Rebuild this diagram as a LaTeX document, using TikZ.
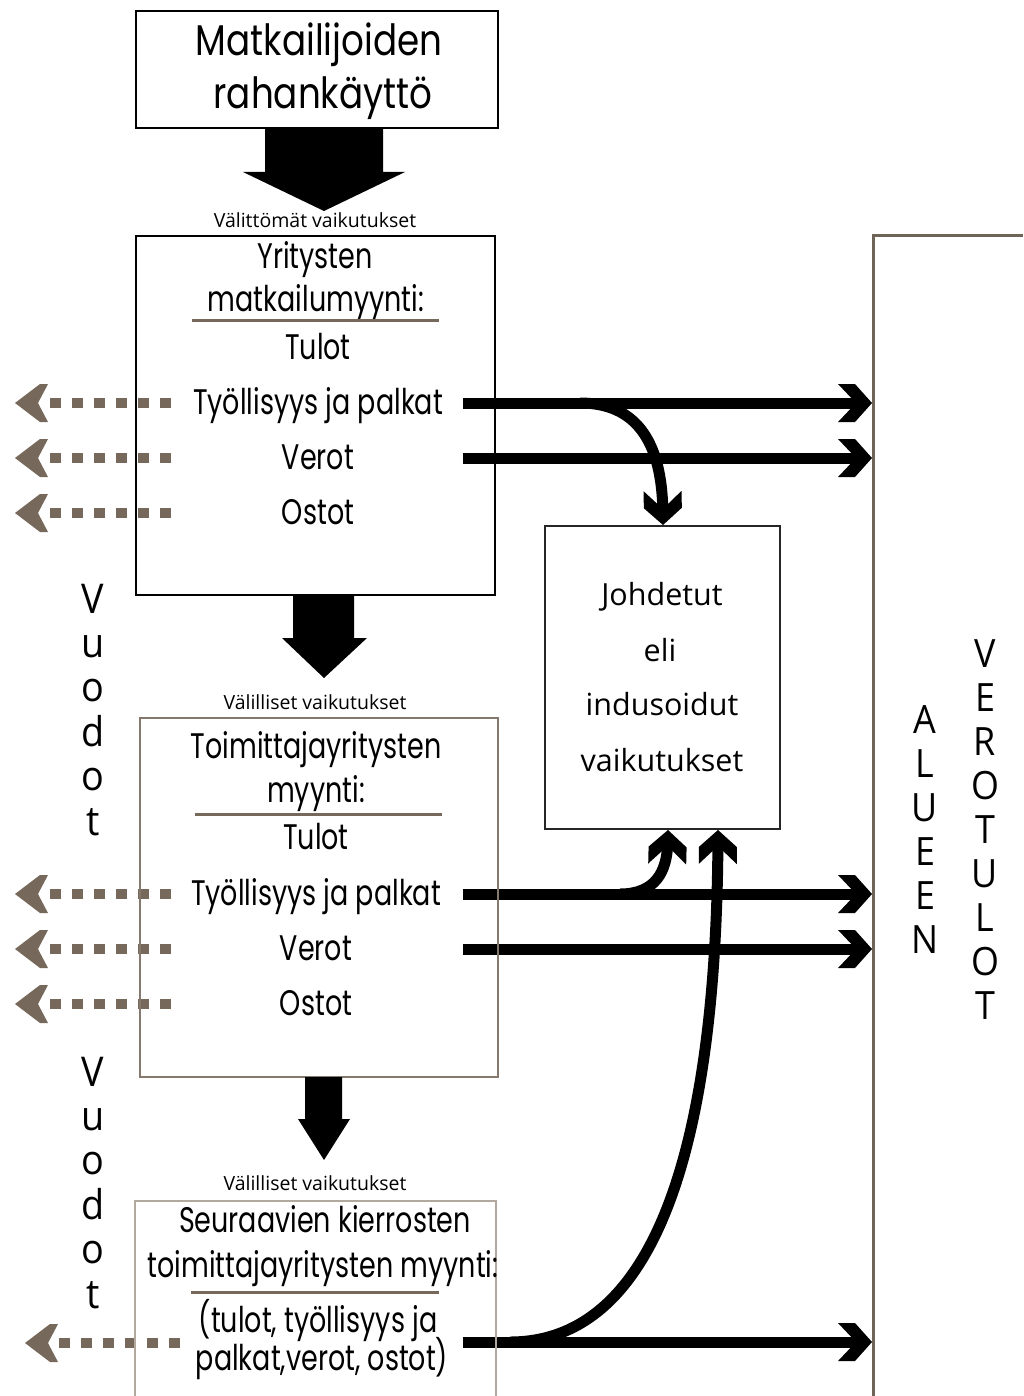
\documentclass[tikz,border=0pt]{standalone}
\usepackage{fontspec}
\setmainfont{Poppins}[FakeStretch=0.76]
\newfontfamily\ttlf{Poppins}[FakeStretch=0.83]
\newfontfamily\hum{Open Sans}[FakeStretch=0.92]
\newfontfamily\humw{Open Sans}
\usetikzlibrary{arrows.meta}
\definecolor{brn}{HTML}{76695B}
\definecolor{bxc}{HTML}{85796D}
\definecolor{bxd}{HTML}{B3A89E}
\definecolor{vlc}{HTML}{6E6458}
\pgfdeclarearrow{
  name = Chev,
  setup code = {
    \pgfarrowssettipend{0pt}
    \pgfarrowssetlineend{-13pt}
    \pgfarrowssetbackend{-34pt}
  },
  drawing code = {
    \pgfpathmoveto{\pgfpoint{0pt}{0pt}}
    \pgfpathlineto{\pgfpoint{-17pt}{19pt}}
    \pgfpathlineto{\pgfpoint{-34pt}{19pt}}
    \pgfpathlineto{\pgfpoint{-16pt}{0pt}}
    \pgfpathlineto{\pgfpoint{-34pt}{-19pt}}
    \pgfpathlineto{\pgfpoint{-17pt}{-19pt}}
    \pgfpathclose
    \pgfusepathqfill
  }
}
\pgfdeclarearrow{
  name = LChev,
  setup code = {
    \pgfarrowssettipend{0pt}
    \pgfarrowssetlineend{-24pt}
    \pgfarrowssetbackend{-33pt}
  },
  drawing code = {
    \pgfpathmoveto{\pgfpoint{0pt}{0pt}}
    \pgfpathlineto{\pgfpoint{-25pt}{19pt}}
    \pgfpathlineto{\pgfpoint{-33pt}{19pt}}
    \pgfpathlineto{\pgfpoint{-23pt}{0pt}}
    \pgfpathlineto{\pgfpoint{-33pt}{-19pt}}
    \pgfpathlineto{\pgfpoint{-25pt}{-19pt}}
    \pgfpathclose
    \pgfusepathqfill
  }
}
\begin{document}
\begin{tikzpicture}[x=1pt,y=-1pt,
  txt/.style={inner sep=0pt, anchor=mid, font=\fontsize{35.5}{40}\selectfont},
  ttl/.style={inner sep=0pt, anchor=mid, font=\ttlf\fontsize{43}{48}\selectfont},
  hum/.style={inner sep=0pt, anchor=mid, font=\humw\fontsize{30.5}{34}\selectfont},
  lab/.style={inner sep=0pt, anchor=mid, font=\humw\fontsize{19.5}{22}\selectfont},
  vlet/.style={inner sep=0pt, anchor=base, font=\hum\fontsize{41}{44}\selectfont},
  arr/.style={line width=11pt, -Chev},
  leak/.style={brn, line width=10pt, dash pattern=on 11pt off 11pt, -LChev},
  rule/.style={brn, line width=3pt},
  blockarrow/.style={fill=black},
]
\useasboundingbox (0,0) rectangle (1023,1396);
% region frame
\draw[vlc, line width=3pt] (873,1396) -- (873,236) -- (1023,236);
% leak arrows
\foreach \y [count=\i] in {403,458,513,894,949,1004} {
  \coordinate (ls\i) at (171,\y);
  \coordinate (le\i) at (15,\y);
  \draw[leak] (ls\i) -- (le\i);
}
\coordinate (ls7) at (180,1343);
\coordinate (le7) at (25,1343);
\draw[leak] (ls7) -- (le7);
% right arrows
\foreach \y [count=\i] in {403,458,894,949,1342} {
  \coordinate (rs\i) at (463,\y);
  \coordinate (re\i) at (872,\y);
  \draw[arr] (rs\i) -- (re\i);
}
% boxes
\node[draw, line width=1.3pt, minimum width=362pt, minimum height=117pt, inner sep=0pt] (top) at (317,69.5) {};
\node[draw, line width=1.3pt, minimum width=359pt, minimum height=359pt, inner sep=0pt] (b1) at (315.5,415.5) {};
\node[draw=bxc, line width=1.5pt, minimum width=358pt, minimum height=359pt, inner sep=0pt] (b2) at (319,897.5) {};
\draw[bxd, line width=1.5pt] (135,1396) -- (135,1201) -- (496,1201) -- (496,1396);
\node[draw=black!85, line width=1.5pt, minimum width=235pt, minimum height=303pt, inner sep=0pt] (jo) at (662.5,677.5) {};
% curved arrows
\coordinate (c1s) at (580,403);
\coordinate (c1e) at (663,525);
\draw[arr] (c1s) .. controls (635,403) and (662,440) .. (c1e);
\coordinate (c2s) at (620,894);
\coordinate (c2e) at (668,830);
\draw[arr] (c2s) .. controls (655,894) and (667,872) .. (c2e);
\coordinate (c3s) at (510,1342);
\coordinate (c3e) at (718,830);
\draw[arr] (c3s) .. controls (650,1342) and (716,1160) .. (c3e);
% block arrows
\fill[blockarrow] (265,128) -- (383,128) -- (383,172) -- (405,172) -- (324,211) -- (243,172) -- (265,172) -- cycle;
\fill[blockarrow] (293,595) -- (354,595) -- (354,638) -- (367,638) -- (324,678) -- (282,638) -- (293,638) -- cycle;
\fill[blockarrow] (305,1077) -- (342,1077) -- (342,1119) -- (350,1119) -- (324,1160) -- (298,1119) -- (305,1119) -- cycle;
% labels
\node[lab] (l1) at (315,225) {Välittömät vaikutukset};
\node[lab] (l2) at (315,707) {Välilliset vaikutukset};
\node[lab] (l3) at (315,1188) {Välilliset vaikutukset};
% top texts
\node[ttl] (t1) at (319,53) {Matkailijoiden};
\node[ttl] (t2) at (323,106) {rahankäyttö};
% box 1 texts
\node[txt] (a1) at (315,266) {Yritysten};
\node[txt] (a2) at (316,309) {matkailumyynti:};
\draw[rule] (192,320) -- (439,320);
\node[txt] (a3) at (318,357) {Tulot};
\node[txt] (a4) at (318,412) {Työllisyys ja palkat};
\node[txt] (a5) at (318,467) {Verot};
\node[txt] (a6) at (318,522) {Ostot};
% box 2 texts
\node[txt] (b21) at (316,756) {Toimittajayritysten};
\node[txt] (b22) at (316,800) {myynti:};
\draw[rule] (195,814) -- (442,814);
\node[txt] (b23) at (316,847) {Tulot};
\node[txt] (b24) at (316,903) {Työllisyys ja palkat};
\node[txt] (b25) at (316,958) {Verot};
\node[txt] (b26) at (316,1013) {Ostot};
% box 3 texts
\node[txt] (c1) at (325,1230) {Seuraavien kierrosten};
\node[txt] (c2) at (323,1275) {toimittajayritysten myynti:};
\draw[rule] (191,1292) -- (439,1292);
\node[txt] (c3) at (318,1330) {(tulot, työllisyys ja};
\node[txt] (c4) at (322,1368) {palkat,verot, ostot)};
% Johdetut texts
\node[hum] (j1) at (662,603) {Johdetut};
\node[hum] (j2) at (660,659) {eli};
\node[hum] (j3) at (662,713) {indusoidut};
\node[hum] (j4) at (662,769) {vaikutukset};
% vertical words
\foreach \ch [count=\i] in {V,u,o,d,o,t} {
  \node[vlet] (va\i) at (93,613+44.4*\i-44.4) {\ch};
  \node[vlet] (vb\i) at (93,1086+44.4*\i-44.4) {\ch};
}
\foreach \ch [count=\i] in {A,L,U,E,E,N} {
  \node[vlet, font=\hum\fontsize{39}{44}\selectfont] (al\i) at (925,733+44*\i-44) {\ch};
}
\foreach \ch [count=\i] in {V,E,R,O,T,U,L,O,T} {
  \node[vlet, font=\hum\fontsize{39}{44}\selectfont] (ve\i) at (985,667+44.1*\i-44.1) {\ch};
}
\end{tikzpicture}
\end{document}
